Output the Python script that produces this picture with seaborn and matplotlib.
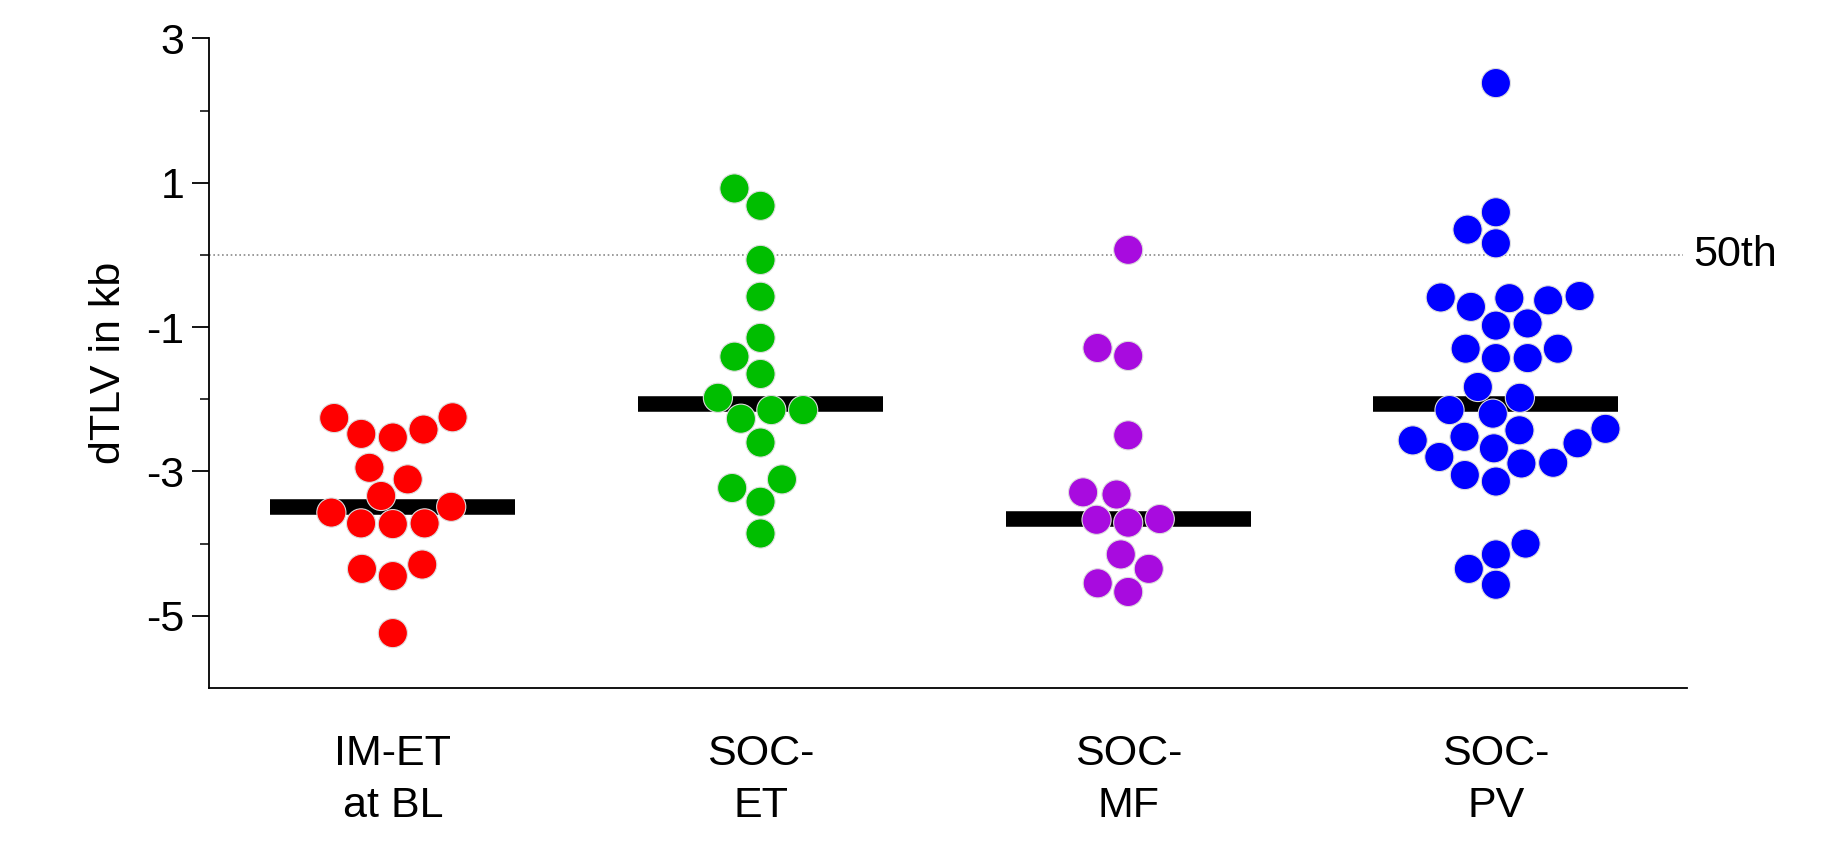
import pandas as pd
import matplotlib
matplotlib.use("Agg")
import matplotlib.pyplot as plt
import seaborn as sns
from matplotlib.ticker import FixedLocator

# Values (dTLV in kb)
groups = ["IM-ET\nat BL", "SOC-\nET", "SOC-\nMF", "SOC-\nPV"]
colors = ["#FF0000", "#00BE00", "#A80BDF", "#0000FF"]

im_et_bl = [-2.26, -2.25, -2.42, -2.53, -2.48, -2.95, -3.11, -3.34, -3.49,
            -3.57, -3.72, -3.73, -3.72, -4.35, -4.29, -4.45, -5.24]
soc_et = [0.92, 0.68, -0.07, -0.58, -1.15, -1.41, -1.65, -1.98, -2.15,
          -2.15, -2.27, -2.60, -3.11, -3.23, -3.42, -3.86]
soc_mf = [0.07, -1.29, -1.40, -2.50, -3.32, -3.29, -3.67, -3.71, -3.66,
          -4.15, -4.35, -4.55, -4.67]
soc_pv = [2.38, 0.59, 0.35, 0.16, -0.57, -0.60, -0.72, -0.63, -0.59,
          -0.95, -0.98, -1.30, -1.43, -1.43, -1.30, -1.83, -1.98, -2.20,
          -2.15, -2.43, -2.41, -2.57, -2.52, -2.68, -2.61, -2.88, -2.80,
          -3.05, -2.89, -3.14, -4.15, -4.00, -4.35, -4.57]

percentile_50 = 0.0

major_ticks = [3, 1, -1, -3, -5]
minor_ticks = [2, 0, -2, -4]

df = pd.concat([
    pd.DataFrame({"group": g, "dtlv": v})
    for g, v in zip(groups, [im_et_bl, soc_et, soc_mf, soc_pv])
], ignore_index=True)

sns.set_theme(style="white")
plt.rcParams["font.family"] = ["Liberation Sans", "DejaVu Sans"]

fig = plt.figure(figsize=(18.43, 8.46), dpi=100)
ax = fig.add_axes([0.1134, 0.1868, 0.802, 0.7679])

# reference line for the 50th percentile
ax.axhline(percentile_50, xmin=0, xmax=0.997, color="#8a8a8a", lw=1.2,
           linestyle=(0, (1, 1.6)), zorder=1)
ax.text(1.004, percentile_50, "50th", transform=ax.get_yaxis_transform(),
        ha="left", va="center", fontsize=31, color="black")

# median bars
medians = df.groupby("group", sort=False)["dtlv"].median()
for i, g in enumerate(groups):
    ax.hlines(medians[g], i - 0.333, i + 0.333, color="black", lw=11.2,
              capstyle="butt", zorder=2)

sns.swarmplot(data=df, x="group", y="dtlv", hue="group", order=groups,
              hue_order=groups, palette=dict(zip(groups, colors)), size=21,
              edgecolor="#dddddd", linewidth=0.8, legend=False, ax=ax,
              zorder=3)

ax.set_xlim(-0.5, 3.52)
ax.set_ylim(-6, 3)
ax.yaxis.set_major_locator(FixedLocator(major_ticks))
ax.yaxis.set_minor_locator(FixedLocator(minor_ticks))
ax.set_yticklabels([str(t) for t in major_ticks])

sns.despine(ax=ax)
for side in ["left", "bottom"]:
    ax.spines[side].set_linewidth(1.3)
    ax.spines[side].set_color("black")
ax.spines["left"].set_bounds(-6, 3)

ax.tick_params(axis="y", which="major", length=12.2, width=1.3, pad=5.5,
               labelsize=31, colors="black", left=True)
ax.tick_params(axis="y", which="minor", length=6.5, width=1.3, left=True)
ax.tick_params(axis="x", length=0, pad=33, labelsize=31, colors="black")
for lbl in ax.get_xticklabels():
    lbl.set_linespacing(1.4)

ax.set_xlabel("")
ax.set_ylabel("dTLV in kb", fontsize=31, color="black", labelpad=12)

fig.savefig("out.png", dpi=100, facecolor="white")
